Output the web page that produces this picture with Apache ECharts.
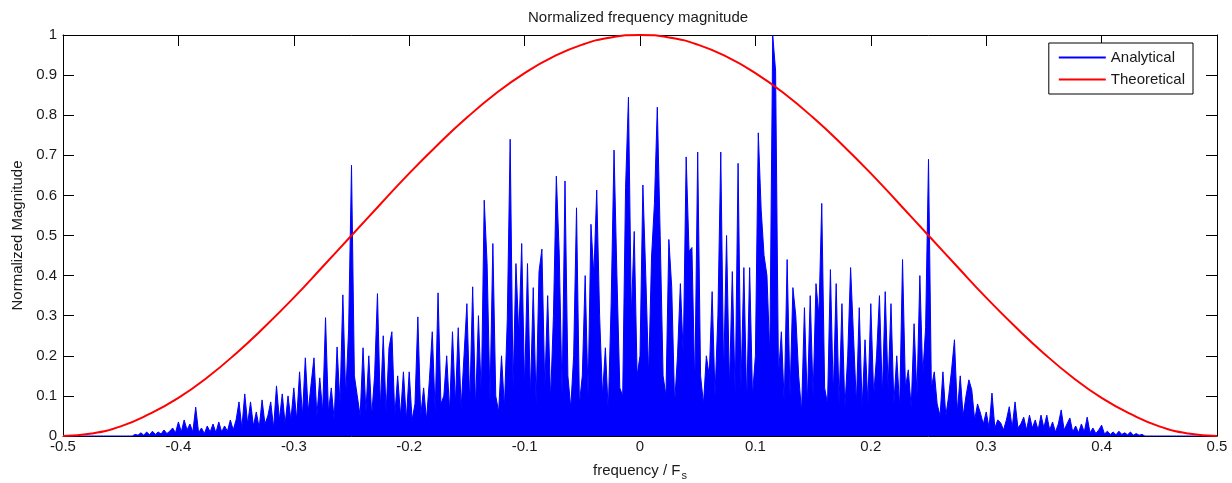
<!DOCTYPE html>
<html>
<head>
<meta charset="utf-8">
<title>Normalized frequency magnitude</title>
<script src="https://cdn.jsdelivr.net/npm/echarts@6/dist/echarts.min.js"></script>
<style>
  html, body { margin: 0; padding: 0; background: #fff; }
  #chart { width: 1232px; height: 483px; }
</style>
</head>
<body>
<div id="chart"></div>
<script>
// measured spectrum, one value every 0.0025 starting at -0.5
const specStart = -0.5;
const specStep = 0.0025;
const analytical = [
  0, 0, 0, 0, 0, 0, 0, 0, 0, 0, 0, 0, 0, 0, 0, 0, 0, 0, 0, 0,
  0, 0, 0, 0, 0, 0.004, 0.002, 0.008, 0.002, 0.01, 0.003, 0.012, 0.004, 0.01, 0.005, 0.015, 0.006, 0.012, 0.02, 0.008,
  0.035, 0.01, 0.04, 0.015, 0.03, 0.01, 0.072, 0.008, 0.02, 0.006, 0.025, 0.01, 0.03, 0.008, 0.035, 0.01, 0.025, 0.012, 0.04, 0.015,
  0.04, 0.085, 0.02, 0.105, 0.03, 0.085, 0.025, 0.06, 0.02, 0.09, 0.03, 0.05, 0.085, 0.02, 0.125, 0.04, 0.105, 0.03, 0.1, 0.04,
  0.12, 0.04, 0.16, 0.05, 0.195, 0.06, 0.13, 0.195, 0.05, 0.145, 0.06, 0.295, 0.06, 0.12, 0.04, 0.222, 0.08, 0.352, 0.1, 0.265,
  0.675, 0.15, 0.1, 0.05, 0.22, 0.06, 0.2, 0.05, 0.15, 0.355, 0.07, 0.25, 0.06, 0.22, 0.26, 0.05, 0.15, 0.05, 0.16, 0.04,
  0.16, 0.04, 0.08, 0.297, 0.05, 0.12, 0.04, 0.14, 0.26, 0.06, 0.357, 0.08, 0.1, 0.2, 0.06, 0.26, 0.08, 0.27, 0.07, 0.2,
  0.33, 0.08, 0.372, 0.07, 0.3, 0.1, 0.588, 0.43, 0.09, 0.48, 0.1, 0.06, 0.2, 0.07, 0.29, 0.74, 0.12, 0.43, 0.25, 0.48,
  0.12, 0.43, 0.1, 0.37, 0.08, 0.41, 0.466, 0.12, 0.35, 0.09, 0.3, 0.648, 0.456, 0.1, 0.636, 0.15, 0.07, 0.2, 0.569, 0.08,
  0.15, 0.4, 0.1, 0.528, 0.4, 0.613, 0.3, 0.1, 0.22, 0.06, 0.33, 0.713, 0.4, 0.12, 0.1, 0.62, 0.845, 0.3, 0.51, 0.15,
  0.2, 0.626, 0.4, 0.15, 0.446, 0.58, 0.82, 0.5, 0.15, 0.1, 0.49, 0.37, 0.08, 0.2, 0.38, 0.2, 0.696, 0.46, 0.47, 0.12,
  0.708, 0.15, 0.08, 0.2, 0.15, 0.36, 0.1, 0.3, 0.708, 0.15, 0.5, 0.12, 0.41, 0.1, 0.68, 0.12, 0.42, 0.08, 0.42, 0.1,
  0.2, 0.756, 0.564, 0.45, 0.4, 0.2, 1.0, 0.91, 0.15, 0.26, 0.08, 0.44, 0.1, 0.37, 0.3, 0.15, 0.06, 0.32, 0.08, 0.35,
  0.1, 0.38, 0.3, 0.58, 0.12, 0.08, 0.415, 0.1, 0.38, 0.08, 0.33, 0.07, 0.2, 0.42, 0.25, 0.08, 0.32, 0.07, 0.24, 0.08,
  0.33, 0.1, 0.2, 0.35, 0.1, 0.36, 0.12, 0.33, 0.08, 0.2, 0.07, 0.44, 0.12, 0.165, 0.07, 0.28, 0.1, 0.4, 0.15, 0.27,
  0.69, 0.12, 0.16, 0.08, 0.05, 0.16, 0.05, 0.1, 0.165, 0.24, 0.06, 0.15, 0.05, 0.1, 0.14, 0.115, 0.04, 0.08, 0.057, 0.03,
  0.06, 0.02, 0.107, 0.02, 0.04, 0.033, 0.015, 0.04, 0.073, 0.02, 0.085, 0.02, 0.03, 0.047, 0.015, 0.052, 0.02, 0.04, 0.015, 0.052,
  0.02, 0.052, 0.015, 0.035, 0.01, 0.03, 0.065, 0.015, 0.03, 0.045, 0.01, 0.025, 0.008, 0.03, 0.01, 0.047, 0.008, 0.02, 0.006, 0.015,
  0.027, 0.005, 0.012, 0.004, 0.01, 0.003, 0.012, 0.004, 0.008, 0.003, 0.01, 0.002, 0.006, 0.002, 0.004, 0, 0, 0, 0, 0,
  0, 0, 0, 0, 0, 0, 0, 0, 0, 0, 0, 0, 0, 0, 0, 0, 0, 0, 0, 0,
  0
];

// theoretical curve, one value every 0.025 starting at -0.5
const theoStart = -0.5;
const theoStep = 0.025;
const theoretical = [
  0, 0.006, 0.024, 0.055, 0.095, 0.146, 0.206, 0.273, 0.345, 0.422,
  0.5, 0.578, 0.655, 0.727, 0.794, 0.854, 0.905, 0.946, 0.976, 0.994,
  1.0,
  0.994, 0.976, 0.946, 0.905, 0.854, 0.794, 0.727, 0.655, 0.578, 0.5,
  0.422, 0.345, 0.273, 0.206, 0.146, 0.095, 0.055, 0.024, 0.006, 0
];

const seriesNames = ['Analytical', 'Theoretical'];

const font = '"Liberation Sans", Arial, sans-serif';
const textColor = '#1a1a1a';

function pairs(start, step, values) {
  return values.map((v, i) => [+(start + i * step).toFixed(4), v]);
}

const chart = echarts.init(document.getElementById('chart'), null, { renderer: 'canvas' });

// box axes with ticks pointing inward on all four sides
const tickStyle = { show: true, inside: true, length: 11, lineStyle: { color: '#000' } };
const lineStyle = { show: true, onZero: false, lineStyle: { color: '#000', width: 1 } };

chart.setOption({
  animation: false,
  backgroundColor: '#fff',
  textStyle: { fontFamily: font },
  title: {
    text: 'Normalized frequency magnitude',
    left: 528, top: 10, padding: 0,
    textStyle: { fontSize: 15, fontWeight: 'normal', color: textColor, fontFamily: font }
  },
  legend: {
    data: seriesNames,
    orient: 'vertical',
    right: 39, top: 43,
    padding: [7, 8, 7, 9],
    itemGap: 7,
    itemWidth: 47, itemHeight: 14,
    itemStyle: { opacity: 0 },
    borderColor: '#000', borderWidth: 1, borderRadius: 0,
    backgroundColor: '#fff',
    textStyle: { fontSize: 15, color: textColor, fontFamily: font }
  },
  grid: { left: 63, right: 15, top: 35, bottom: 47, containLabel: false, outerBoundsMode: 'none' },
  xAxis: [
    {
      type: 'value', min: -0.5, max: 0.5, interval: 0.1,
      name: '{a|frequency / F}{s|s}',
      nameLocation: 'middle', nameGap: 24,
      nameTextStyle: {
        rich: {
          a: { fontSize: 15, color: textColor, fontFamily: font },
          s: { fontSize: 11, padding: [10, 0, 0, 1], color: textColor, fontFamily: font }
        }
      },
      axisLine: lineStyle, axisTick: tickStyle,
      axisLabel: { fontSize: 15, color: textColor, margin: 3, fontFamily: font },
      splitLine: { show: false }
    },
    {
      type: 'value', min: -0.5, max: 0.5, interval: 0.1, position: 'top',
      axisLine: lineStyle, axisTick: tickStyle,
      axisLabel: { show: false }, splitLine: { show: false }
    }
  ],
  yAxis: [
    {
      type: 'value', min: 0, max: 1, interval: 0.1,
      name: 'Normalized Magnitude',
      nameLocation: 'middle', nameGap: 33,
      nameTextStyle: { fontSize: 15, color: textColor, fontFamily: font },
      axisLine: lineStyle, axisTick: tickStyle,
      axisLabel: { fontSize: 15, color: textColor, margin: 6, fontFamily: font },
      splitLine: { show: false }
    },
    {
      type: 'value', min: 0, max: 1, interval: 0.1, position: 'right',
      axisLine: lineStyle, axisTick: tickStyle,
      axisLabel: { show: false }, splitLine: { show: false }
    }
  ],
  series: [
    {
      name: seriesNames[0], type: 'line',
      data: pairs(specStart, specStep, analytical),
      symbol: 'none', showSymbol: false,
      lineStyle: { color: '#0000ff', width: 1 },
      itemStyle: { color: '#0000ff' },
      areaStyle: { color: '#0000ff', opacity: 1 },
      z: 2
    },
    {
      name: seriesNames[1], type: 'line',
      data: pairs(theoStart, theoStep, theoretical),
      smooth: true,
      symbol: 'none', showSymbol: false,
      lineStyle: { color: '#ff0000', width: 2 },
      itemStyle: { color: '#ff0000' },
      z: 3
    }
  ]
});
</script>
</body>
</html>
